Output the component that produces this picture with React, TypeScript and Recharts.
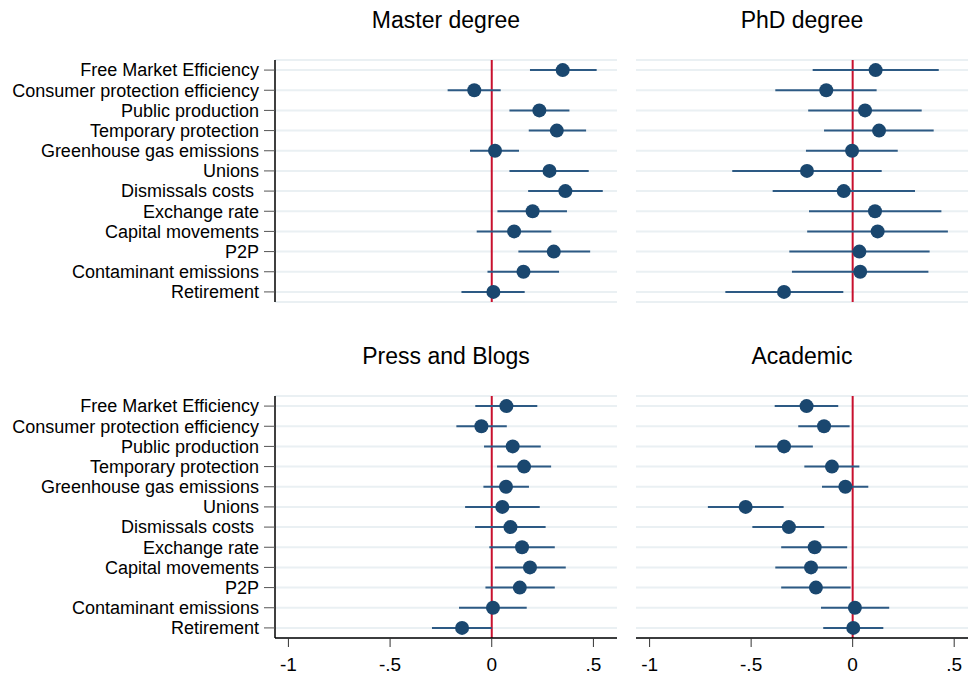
import React from 'react';
import {
  ScatterChart,
  Scatter,
  XAxis,
  YAxis,
  CartesianGrid,
  ReferenceLine,
  ErrorBar
} from 'recharts';

// row labels, top to bottom
const topics = [
  'Free Market Efficiency',
  'Consumer protection efficiency',
  'Public production',
  'Temporary protection',
  'Greenhouse gas emissions',
  'Unions',
  'Dismissals costs\u00a0',
  'Exchange rate',
  'Capital movements',
  'P2P',
  'Contaminant emissions',
  'Retirement'
];

const xTicks = [-1, -0.5, 0, 0.5];
const xTickLabels = ['-1', '-.5', '0', '.5'];

// Master degree
const masterCoef = [0.349, -0.086, 0.234, 0.32, 0.016, 0.284, 0.362, 0.201, 0.11, 0.305, 0.156, 0.008];
const masterLo = [0.188, -0.217, 0.087, 0.182, -0.107, 0.087, 0.179, 0.028, -0.074, 0.131, -0.021, -0.149];
const masterHi = [0.516, 0.044, 0.382, 0.464, 0.134, 0.477, 0.546, 0.37, 0.293, 0.484, 0.331, 0.162];

// PhD degree
const phdCoef = [0.113, -0.13, 0.061, 0.13, -0.003, -0.225, -0.044, 0.11, 0.123, 0.033, 0.037, -0.338];
const phdLo = [-0.197, -0.381, -0.219, -0.141, -0.23, -0.593, -0.394, -0.215, -0.224, -0.312, -0.299, -0.627];
const phdHi = [0.424, 0.118, 0.34, 0.399, 0.222, 0.143, 0.307, 0.437, 0.469, 0.379, 0.373, -0.046];

// Press and Blogs
const pressCoef = [0.072, -0.051, 0.103, 0.159, 0.07, 0.052, 0.092, 0.149, 0.188, 0.138, 0.006, -0.146];
const pressLo = [-0.081, -0.174, -0.038, 0.026, -0.041, -0.131, -0.082, -0.012, 0.016, -0.031, -0.161, -0.294];
const pressHi = [0.224, 0.074, 0.241, 0.292, 0.183, 0.236, 0.265, 0.31, 0.364, 0.31, 0.172, 0.0];

// Academic
const acadCoef = [-0.227, -0.141, -0.338, -0.102, -0.036, -0.527, -0.314, -0.187, -0.205, -0.181, 0.011, 0.003];
const acadLo = [-0.384, -0.268, -0.481, -0.238, -0.151, -0.713, -0.494, -0.352, -0.381, -0.352, -0.156, -0.145];
const acadHi = [-0.071, -0.015, -0.196, 0.033, 0.077, -0.34, -0.14, -0.027, -0.028, -0.01, 0.18, 0.151];

const FONT = 'Arial, "Liberation Sans", Helvetica, sans-serif';
const NAVY = '#1a476f';
const CI_COLOR = '#2d5a84';
const RED = '#c8102e';
const GRID = '#eaf0f3';

const rowIds = topics.map((_, i) => i + 1);

const rows = (coef: number[], lo: number[], hi: number[]) =>
  coef.map((c, i) => ({ row: i + 1, coef: c, err: [c - lo[i], hi[i] - c] }));

const Dot = (props: any) => <circle cx={props.cx} cy={props.cy} r={7} fill={NAVY} />;

interface PanelProps {
  title: string;
  data: any[];
  left: number;
  top: number;
  width: number;
  height: number;
  margin: { top: number; right: number; bottom: number; left: number };
  domain: [number, number];
  showY: boolean;
  showX: boolean;
  titleX: number;
  titleY: number;
}

const Panel: React.FC<PanelProps> = ({
  title, data, left, top, width, height, margin, domain, showY, showX, titleX, titleY
}) => (
  <>
    <div
      style={{
        position: 'absolute',
        left: titleX - 150,
        top: titleY - 16,
        width: 300,
        textAlign: 'center',
        fontSize: 23,
        lineHeight: '28px',
        color: '#000'
      }}
    >
      {title}
    </div>
    <div style={{ position: 'absolute', left, top }}>
      <ScatterChart width={width} height={height} margin={margin}>
        <CartesianGrid horizontal vertical={false} stroke={GRID} strokeWidth={2} />
        <XAxis
          type="number"
          dataKey="coef"
          domain={domain}
          ticks={xTicks}
          allowDataOverflow
          hide={!showX}
          height={37}
          tickFormatter={(v: number) => xTickLabels[xTicks.indexOf(v)] ?? String(v)}
          tick={{ fontSize: 19, fill: '#000', fontFamily: FONT }}
          tickSize={9}
          tickMargin={11}
          axisLine={{ stroke: '#000', strokeWidth: 1.5 }}
          tickLine={{ stroke: '#333' }}
        />
        <YAxis
          type="number"
          dataKey="row"
          reversed
          domain={[0.5, 12.5]}
          ticks={rowIds}
          interval={0}
          hide={!showY}
          width={275}
          axisLine={{ stroke: '#000', strokeWidth: 1.5 }}
          tickLine={{ stroke: '#555' }}
          tick={{ fontSize: 18, fill: '#000', fontFamily: FONT }}
          tickSize={11}
          tickMargin={5}
          tickFormatter={(v: number) => topics[v - 1] ?? ''}
        />
        <ReferenceLine x={0} stroke={RED} strokeWidth={2} />
        <Scatter data={data} shape={Dot} isAnimationActive={false}>
          <ErrorBar
            dataKey="err"
            direction="x"
            width={0}
            stroke={CI_COLOR}
            strokeWidth={2}
            isAnimationActive={false}
          />
        </Scatter>
      </ScatterChart>
    </div>
  </>
);

export default function App() {
  const leftDomain: [number, number] = [-1.066, 0.616];
  const rightDomain: [number, number] = [-1.067, 0.568];
  return (
    <div
      style={{
        position: 'absolute',
        left: 0,
        top: 0,
        width: 969,
        height: 675,
        background: '#fff',
        fontFamily: FONT,
        overflow: 'hidden'
      }}
    >
      <Panel
        title="Master degree"
        data={rows(masterCoef, masterLo, masterHi)}
        left={0}
        top={0}
        width={620}
        height={310}
        margin={{ top: 60, right: 3, bottom: 8, left: 0 }}
        domain={leftDomain}
        showY
        showX={false}
        titleX={446}
        titleY={22}
      />
      <Panel
        title="PhD degree"
        data={rows(phdCoef, phdLo, phdHi)}
        left={620}
        top={0}
        width={349}
        height={310}
        margin={{ top: 60, right: 1, bottom: 8, left: 16 }}
        domain={rightDomain}
        showY={false}
        showX={false}
        titleX={802}
        titleY={22}
      />
      <Panel
        title="Press and Blogs"
        data={rows(pressCoef, pressLo, pressHi)}
        left={0}
        top={340}
        width={620}
        height={342}
        margin={{ top: 56, right: 3, bottom: 7, left: 0 }}
        domain={leftDomain}
        showY
        showX
        titleX={446}
        titleY={358}
      />
      <Panel
        title="Academic"
        data={rows(acadCoef, acadLo, acadHi)}
        left={620}
        top={340}
        width={349}
        height={342}
        margin={{ top: 56, right: 1, bottom: 7, left: 16 }}
        domain={rightDomain}
        showY={false}
        showX
        titleX={802}
        titleY={358}
      />
    </div>
  );
}
